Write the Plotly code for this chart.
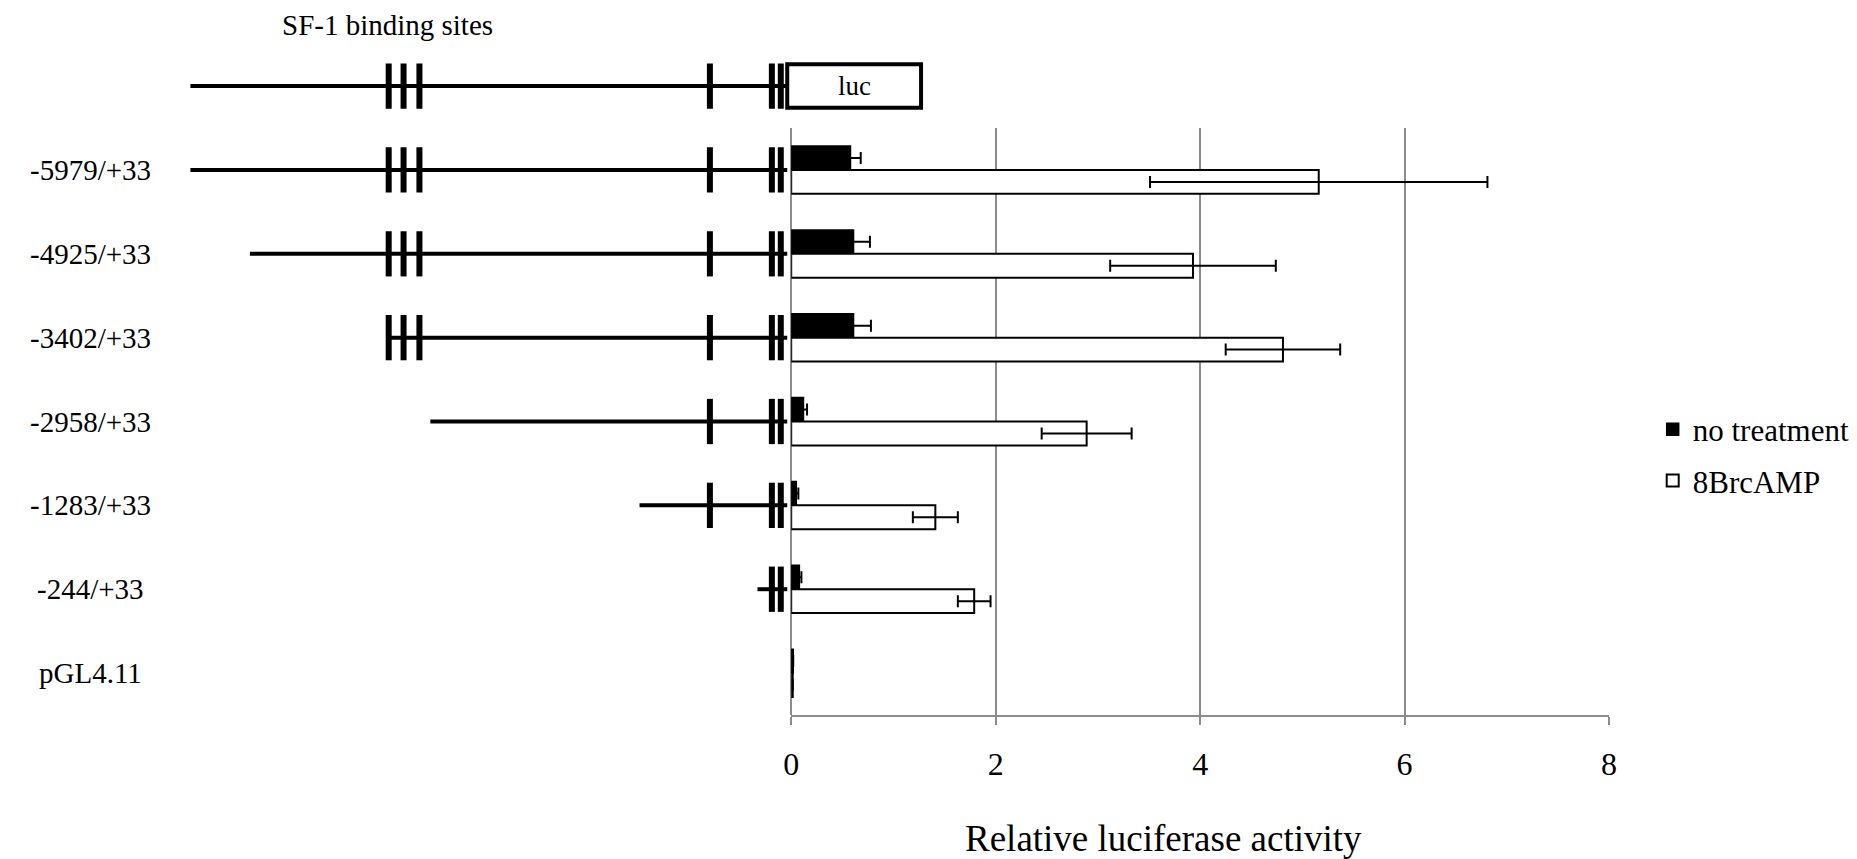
import plotly.graph_objects as go

# ---------------- data ----------------
constructs = ["-5979/+33", "-4925/+33", "-3402/+33", "-2958/+33", "-1283/+33", "-244/+33", "pGL4.11"]
no_treatment = [0.58, 0.61, 0.61, 0.12, 0.05, 0.08, 0.02]
no_treatment_err = [0.10, 0.16, 0.17, 0.035, 0.02, 0.02, 0.0]
brcamp = [5.16, 3.93, 4.81, 2.89, 1.41, 1.79, 0.015]
brcamp_err = [1.65, 0.81, 0.56, 0.44, 0.22, 0.16, 0.0]
x_ticks = [0, 2, 4, 6, 8]

# schematic promoter map (schematic units, +33 end at 0)
full_promoter_start = -6.02
construct_start = [-6.02, -5.42, -4.03, -3.60, -1.49, -0.30, None]
sf1_sites = [-4.02, -3.87, -3.71, -0.78, -0.155, -0.065]
promoter_end = 0.0
luc_start, luc_end = 0.0, 1.35

FONT = "Liberation Serif"
GRID = "#8c8c8c"

rows = list(range(len(constructs)))
top_row = -1
tick_half = 0.27
luc_half = 0.26

fig = go.Figure()

# promoter lines
lx, ly = [], []
all_starts = [full_promoter_start] + construct_start
all_rows = [top_row] + rows
for s, r in zip(all_starts, all_rows):
    if s is None:
        continue
    lx += [s, promoter_end, None]
    ly += [r, r, None]
fig.add_trace(go.Scatter(x=lx, y=ly, mode="lines", line=dict(color="black", width=4),
                         xaxis="x2", yaxis="y2", showlegend=False, hoverinfo="skip"))

# SF-1 site ticks
tx, ty = [], []
for s, r in zip(all_starts, all_rows):
    if s is None:
        continue
    for site in sf1_sites:
        if site >= s - 0.02:
            tx += [site, site, None]
            ty += [r - tick_half, r + tick_half, None]
fig.add_trace(go.Scatter(x=tx, y=ty, mode="lines", line=dict(color="black", width=6),
                         xaxis="x2", yaxis="y2", showlegend=False, hoverinfo="skip"))

# luc box
fig.add_shape(type="rect", xref="x2", yref="y2", x0=luc_start, x1=luc_end,
              y0=top_row - luc_half, y1=top_row + luc_half,
              line=dict(color="black", width=4), fillcolor="white", layer="above")
fig.add_annotation(xref="x2", yref="y2", x=(luc_start + luc_end) / 2, y=top_row, text="luc",
                   showarrow=False, font=dict(family=FONT, size=27, color="black"))

# bars
fig.add_trace(go.Bar(orientation="h", x=no_treatment, y=rows, name="no treatment",
                     marker=dict(color="black", line=dict(color="black", width=1.5)),
                     error_x=dict(type="data", array=no_treatment_err, color="black", thickness=2, width=6),
                     legendgroup="a", xaxis="x", yaxis="y"))
fig.add_trace(go.Bar(orientation="h", x=brcamp, y=rows, name="8BrcAMP",
                     marker=dict(color="white", line=dict(color="black", width=2)),
                     error_x=dict(type="data", array=brcamp_err, color="black", thickness=2, width=6),
                     legendgroup="b", xaxis="x", yaxis="y"))

# construct labels
for lab, r in zip(constructs, rows):
    fig.add_annotation(xref="paper", yref="y2", x=83 / 1857, y=r, text=lab, showarrow=False,
                       xanchor="center", yanchor="middle",
                       font=dict(family=FONT, size=29, color="black"))

fig.add_annotation(xref="paper", yref="paper", x=383 / 1857, y=1 - 25 / 859, text="SF-1 binding sites",
                   showarrow=False, xanchor="center", yanchor="middle",
                   font=dict(family=FONT, size=29, color="black"))
fig.add_annotation(xref="paper", yref="paper", x=1166 / 1857, y=1 - 838 / 859,
                   text="Relative luciferase activity", showarrow=False,
                   xanchor="center", yanchor="middle",
                   font=dict(family=FONT, size=37, color="black"))

ybot = 1 - 715 / 859
fig.update_layout(
    width=1857, height=859, autosize=False,
    margin=dict(l=0, r=0, t=0, b=0),
    paper_bgcolor="white", plot_bgcolor="rgba(0,0,0,0)",
    barmode="group", bargap=0.43, bargroupgap=0,
    font=dict(family=FONT, color="black"),
    xaxis=dict(domain=[790 / 1857, 1615 / 1857], range=[0, 8], tickvals=x_ticks,
               showgrid=True, gridcolor=GRID, gridwidth=1.5,
               zeroline=True, zerolinecolor=GRID, zerolinewidth=1.5,
               showline=True, linecolor=GRID, linewidth=2,
               ticks="outside", ticklen=8, tickcolor=GRID, tickwidth=1.5,
               tickfont=dict(family=FONT, size=32, color="black"), ticklabelstandoff=12,
               anchor="y", fixedrange=True),
    yaxis=dict(domain=[ybot, 1 - 128 / 859], range=[6.5, -0.5], showticklabels=False,
               showgrid=False, zeroline=False, showline=False, ticks="", anchor="x"),
    xaxis2=dict(domain=[0, 1], range=[-7.86, 10.71], visible=False, anchor="y2"),
    yaxis2=dict(domain=[ybot, 1 - 44.14 / 859], range=[6.5, -1.5], visible=False, anchor="x2"),
    legend=dict(x=1659 / 1857, y=1 - 455 / 859, xanchor="left", yanchor="middle",
                font=dict(family=FONT, size=31, color="black"),
                traceorder="grouped", tracegroupgap=8, bgcolor="rgba(0,0,0,0)"),
    showlegend=True,
)

fig.write_html("out.html")
